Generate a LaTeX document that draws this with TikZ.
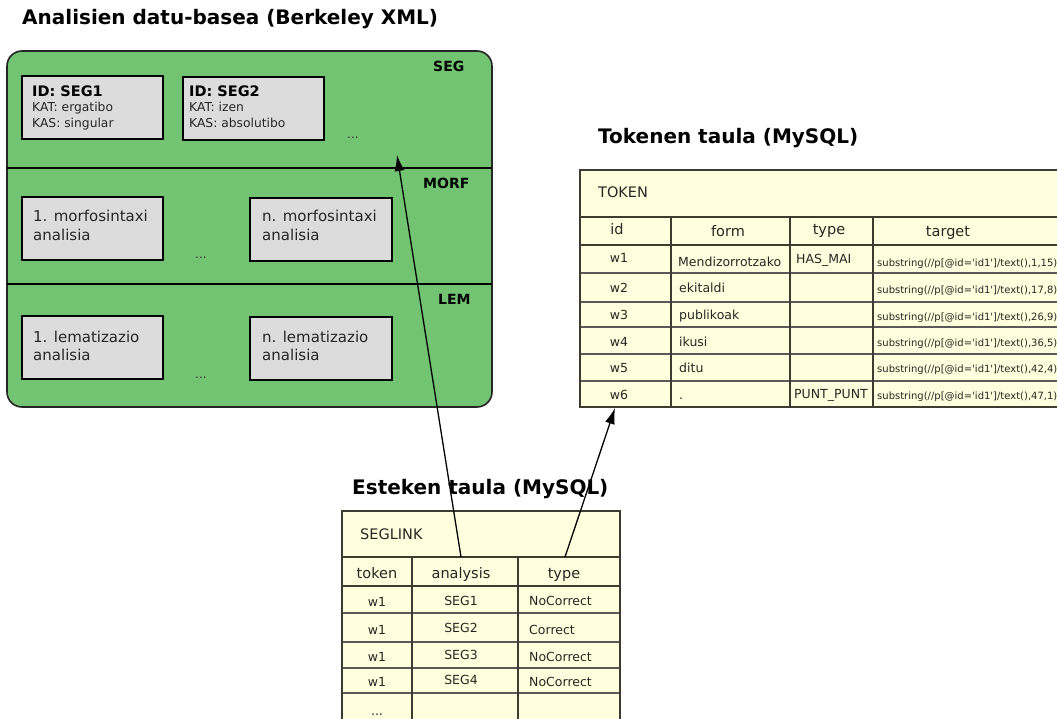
\documentclass[tikz,border=0pt]{standalone}
\usepackage{fontspec}
\setmainfont{DejaVu Sans}
\usetikzlibrary{arrows.meta}
\definecolor{grn}{RGB}{114,196,115}
\definecolor{boxgray}{RGB}{220,220,220}
\definecolor{tbl}{RGB}{255,255,221}
\definecolor{tline}{RGB}{60,60,50}
\newcommand{\sq}{\textquotesingle}
\tikzset{
  bigtitle/.style={font=\bfseries\fontsize{20}{23}\selectfont, anchor=base west, inner sep=0},
  layerlab/.style={font=\bfseries\fontsize{14}{16}\selectfont, anchor=base west, inner sep=0},
  anbox/.style={draw=black, line width=2pt, fill=boxgray, anchor=north west, inner sep=0},
  idtxt/.style={font=\bfseries\fontsize{14.5}{16}\selectfont, anchor=base west, inner sep=0},
  smalltxt/.style={font=\fontsize{12.3}{14}\selectfont, anchor=base west, inner sep=0, text=black!85},
  midtxt/.style={font=\fontsize{15}{17}\selectfont, anchor=base west, inner sep=0, text=black!85},
  dots/.style={font=\fontsize{12}{14}\selectfont, anchor=base west, inner sep=0, text=black!80},
  thead/.style={font=\fontsize{14.5}{17}\selectfont, anchor=base, inner sep=0, text=black!85},
  tcell/.style={font=\fontsize{12.5}{15}\selectfont, anchor=base, inner sep=0, text=black!85},
  tcellL/.style={font=\fontsize{12.5}{15}\selectfont, anchor=base west, inner sep=0, text=black!85},
  tsub/.style={font=\fontsize{10}{12}\selectfont, anchor=base west, inner sep=0, text=black!85},
  touter/.style={draw=tline, line width=2pt},
  tinner/.style={draw=tline, line width=1.4pt},
  trow/.style={draw=black!65, line width=1.2pt},
  link/.style={draw=black, line width=1.3pt, -{Latex[length=16pt,width=10pt]}}
}
\begin{document}
\begin{tikzpicture}[x=1pt,y=-1pt]
\useasboundingbox (0,0) rectangle (1057,719);
\clip (0,0) rectangle (1057,719);

% ---------- Berkeley XML ----------
\node[bigtitle] (t1) at (22,25) {Analisien datu-basea (Berkeley XML)};
\draw[fill=grn, draw=black!85, line width=1.6pt, rounded corners=15pt] (7,51) rectangle (492,407);
\draw[black, line width=2pt] (7,168) -- (492,168);
\draw[black, line width=2pt] (7,284) -- (492,284);
\node[layerlab] (lseg) at (433,72) {SEG};
\node[layerlab] (lmorf) at (423,189) {MORF};
\node[layerlab] (llem) at (438,304) {LEM};

\node[anbox, minimum width=141pt, minimum height=63pt] (seg1) at (21,75) {};
\node[idtxt] (seg1a) at (32,97) {ID: SEG1};
\node[smalltxt] (seg1b) at (32,112) {KAT: ergatibo};
\node[smalltxt] (seg1c) at (32,128) {KAS: singular};

\node[anbox, minimum width=141pt, minimum height=63pt] (seg2) at (182,76) {};
\node[idtxt] (seg2a) at (189,97) {ID: SEG2};
\node[smalltxt] (seg2b) at (189,112) {KAT: izen};
\node[smalltxt] (seg2c) at (189,128) {KAS: absolutibo};
\node[dots] (segdots) at (347,139) {...};

\node[anbox, minimum width=141pt, minimum height=63pt] (morf1) at (21,196) {};
\node[midtxt] (morf1a) at (33,222) {1. morfosintaxi};
\node[midtxt] (morf1b) at (33,241) {analisia};
\node[anbox, minimum width=142pt, minimum height=63pt] (morfn) at (249,197) {};
\node[midtxt] (morfna) at (262,222) {n. morfosintaxi};
\node[midtxt] (morfnb) at (262,241) {analisia};
\node[dots] (morfdots) at (195,259) {...};

\node[anbox, minimum width=141pt, minimum height=63pt] (lem1) at (21,315) {};
\node[midtxt] (lem1a) at (33,342) {1. lematizazio};
\node[midtxt] (lem1b) at (33,360) {analisia};
\node[anbox, minimum width=142pt, minimum height=63pt] (lemn) at (249,316) {};
\node[midtxt] (lemna) at (262,342) {n. lematizazio};
\node[midtxt] (lemnb) at (262,360) {analisia};
\node[dots] (lemdots) at (195,378) {...};

% ---------- TOKEN table ----------
\node[bigtitle] (t2) at (598,144) {Tokenen taula (MySQL)};
\fill[tbl] (580,170) rectangle (1070,407);
\foreach \yy in {273,302,327,354,381} {\draw[trow] (580,\yy) -- (1070,\yy);}
\draw[tinner] (580,217) -- (1070,217);
\draw[tinner] (580,245) -- (1070,245);
\foreach \xx in {671,790,873} {\draw[tinner] (\xx,217) -- (\xx,407);}
\draw[touter] (1070,170) -- (580,170) -- (580,407) -- (1070,407);
\node[thead, anchor=base west] (tok) at (598,198) {TOKEN};
\node[thead] (hid) at (617,235) {id};
\node[thead] (hform) at (728,237) {form};
\node[thead] (htype) at (829,235) {type};
\node[thead] (htarget) at (948,237) {target};
\node[tcell] (r1a) at (619,263) {w1};
\node[tcell] (r2a) at (619,293) {w2};
\node[tcell] (r3a) at (619,319) {w3};
\node[tcell] (r4a) at (619,346) {w4};
\node[tcell] (r5a) at (619,372) {w5};
\node[tcell] (r6a) at (619,399) {w6};
\node[tcellL] (r1b) at (678,266) {Mendizorrotzako};
\node[tcellL] (r2b) at (679,293) {ekitaldi};
\node[tcellL] (r3b) at (679,319) {publikoak};
\node[tcellL] (r4b) at (679,346) {ikusi};
\node[tcellL] (r5b) at (679,372) {ditu};
\node[tcellL] (r6b) at (679,399) {.};
\node[tcellL] (r1c) at (796,264) {HAS\_MAI};
\node[tcellL] (r6c) at (794,398) {PUNT\_PUNT};
\node[tsub] (r1d) at (877,266) {substring(//p[@id=\sq id1\sq]/text(),1,15)};
\node[tsub] (r2d) at (877,294) {substring(//p[@id=\sq id1\sq]/text(),17,8)};
\node[tsub] (r3d) at (877,320) {substring(//p[@id=\sq id1\sq]/text(),26,9)};
\node[tsub] (r4d) at (877,346) {substring(//p[@id=\sq id1\sq]/text(),36,5)};
\node[tsub] (r5d) at (877,372) {substring(//p[@id=\sq id1\sq]/text(),42,4)};
\node[tsub] (r6d) at (877,399) {substring(//p[@id=\sq id1\sq]/text(),47,1)};

% ---------- SEGLINK table ----------
\node[bigtitle] (t3) at (352,494) {Esteken taula (MySQL)};
\fill[tbl] (342,511) rectangle (620,730);
\foreach \yy in {613,642,668,693} {\draw[trow] (342,\yy) -- (620,\yy);}
\draw[tinner] (342,557) -- (620,557);
\draw[tinner] (342,586) -- (620,586);
\foreach \xx in {412,518} {\draw[tinner] (\xx,557) -- (\xx,730);}
\draw[touter] (342,730) -- (342,511) -- (620,511) -- (620,730);
\node[thead, anchor=base west] (sl) at (360,539) {SEGLINK};
\node[thead] (htok) at (377,578) {token};
\node[thead] (hana) at (461,578) {analysis};
\node[thead] (htyp) at (564,578) {type};
\node[tcell] (s1a) at (377,606) {w1};
\node[tcell] (s2a) at (377,634) {w1};
\node[tcell] (s3a) at (377,661) {w1};
\node[tcell] (s4a) at (377,686) {w1};
\node[tcell] (s5a) at (377,715) {...};
\node[tcell] (s1b) at (461,605) {SEG1};
\node[tcell] (s2b) at (461,632) {SEG2};
\node[tcell] (s3b) at (461,659) {SEG3};
\node[tcell] (s4b) at (461,684) {SEG4};
\node[tcellL] (s1c) at (529,605) {NoCorrect};
\node[tcellL] (s2c) at (529,634) {Correct};
\node[tcellL] (s3c) at (529,661) {NoCorrect};
\node[tcellL] (s4c) at (529,686) {NoCorrect};

% ---------- connectors ----------
\coordinate (anaTop) at (461,557);
\coordinate (typeTop) at (565,557);
\coordinate (segTip) at (397,155);
\coordinate (tokTip) at (615,408);
\draw[link] (anaTop) -- (segTip);
\draw[link] (typeTop) -- (tokTip);
\end{tikzpicture}
\end{document}
